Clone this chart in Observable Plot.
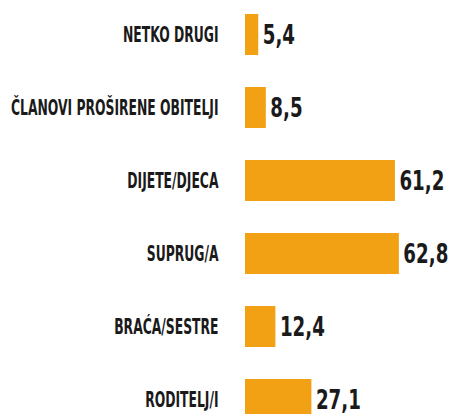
<!DOCTYPE html>
<html>
<head>
<meta charset="utf-8">
<script src="https://cdn.jsdelivr.net/npm/d3@7"></script>
<script src="https://cdn.jsdelivr.net/npm/@observablehq/plot@0.6"></script>
<style>
  html, body { margin: 0; padding: 0; background: #fff; overflow: hidden; }
  #chart svg { display: block; }
</style>
</head>
<body>
<div id="chart"></div>
<script>
const categories = ["NETKO DRUGI", "ČLANOVI PROŠIRENE OBITELJI", "DIJETE/DJECA", "SUPRUG/A", "BRAĆA/SESTRE", "RODITELJ/I"];
const values = [5.4, 8.5, 61.2, 62.8, 12.4, 27.1];

const data = categories.map((c, i) => ({category: c, value: values[i]}));
const fmt = v => v.toFixed(1).replace(".", ",");
const font = "'DejaVu Sans Condensed', 'DejaVu Sans', sans-serif";

const chart = Plot.plot({
  width: 450,
  height: 414,
  marginLeft: 0, marginRight: 0, marginTop: 0, marginBottom: 0,
  x: {domain: [0, 70], range: [245, 416.5], axis: null},
  y: {domain: categories, range: [14, 420.4], paddingInner: 0.44, paddingOuter: 0, axis: null},
  marks: [
    Plot.barX(data, {x: "value", y: "category", fill: "#F2A115"}),
    Plot.text(data, {
      x: 0, y: "category", text: "category", textAnchor: "end", dx: -27,
      fontFamily: font, fontWeight: "bold", fontSize: 22, fill: "#1a1a1a"
    }),
    Plot.text(data, {
      x: "value", y: "category", text: d => fmt(d.value), textAnchor: "start", dx: 4,
      fontFamily: font, fontWeight: "bold", fontSize: 27, fill: "#1a1a1a"
    })
  ]
});
document.getElementById("chart").appendChild(chart);

// condense texts horizontally (the reference uses a very narrow typeface)
function condense(group, k) {
  group.querySelectorAll("text").forEach(t => {
    const tr = t.getAttribute("transform");
    if (tr) t.setAttribute("transform", tr + ` scale(${k},1)`);
    else {
      const x = +t.getAttribute("x") || 0, y = +t.getAttribute("y") || 0;
      t.setAttribute("transform", `translate(${x},${y}) scale(${k},1) translate(${-x},${-y})`);
    }
  });
}
const textGroups = chart.querySelectorAll('g[aria-label="text"]');
if (textGroups.length > 0) condense(textGroups[0], 0.625);
if (textGroups.length > 1) condense(textGroups[1], 0.75);
</script>
</body>
</html>
